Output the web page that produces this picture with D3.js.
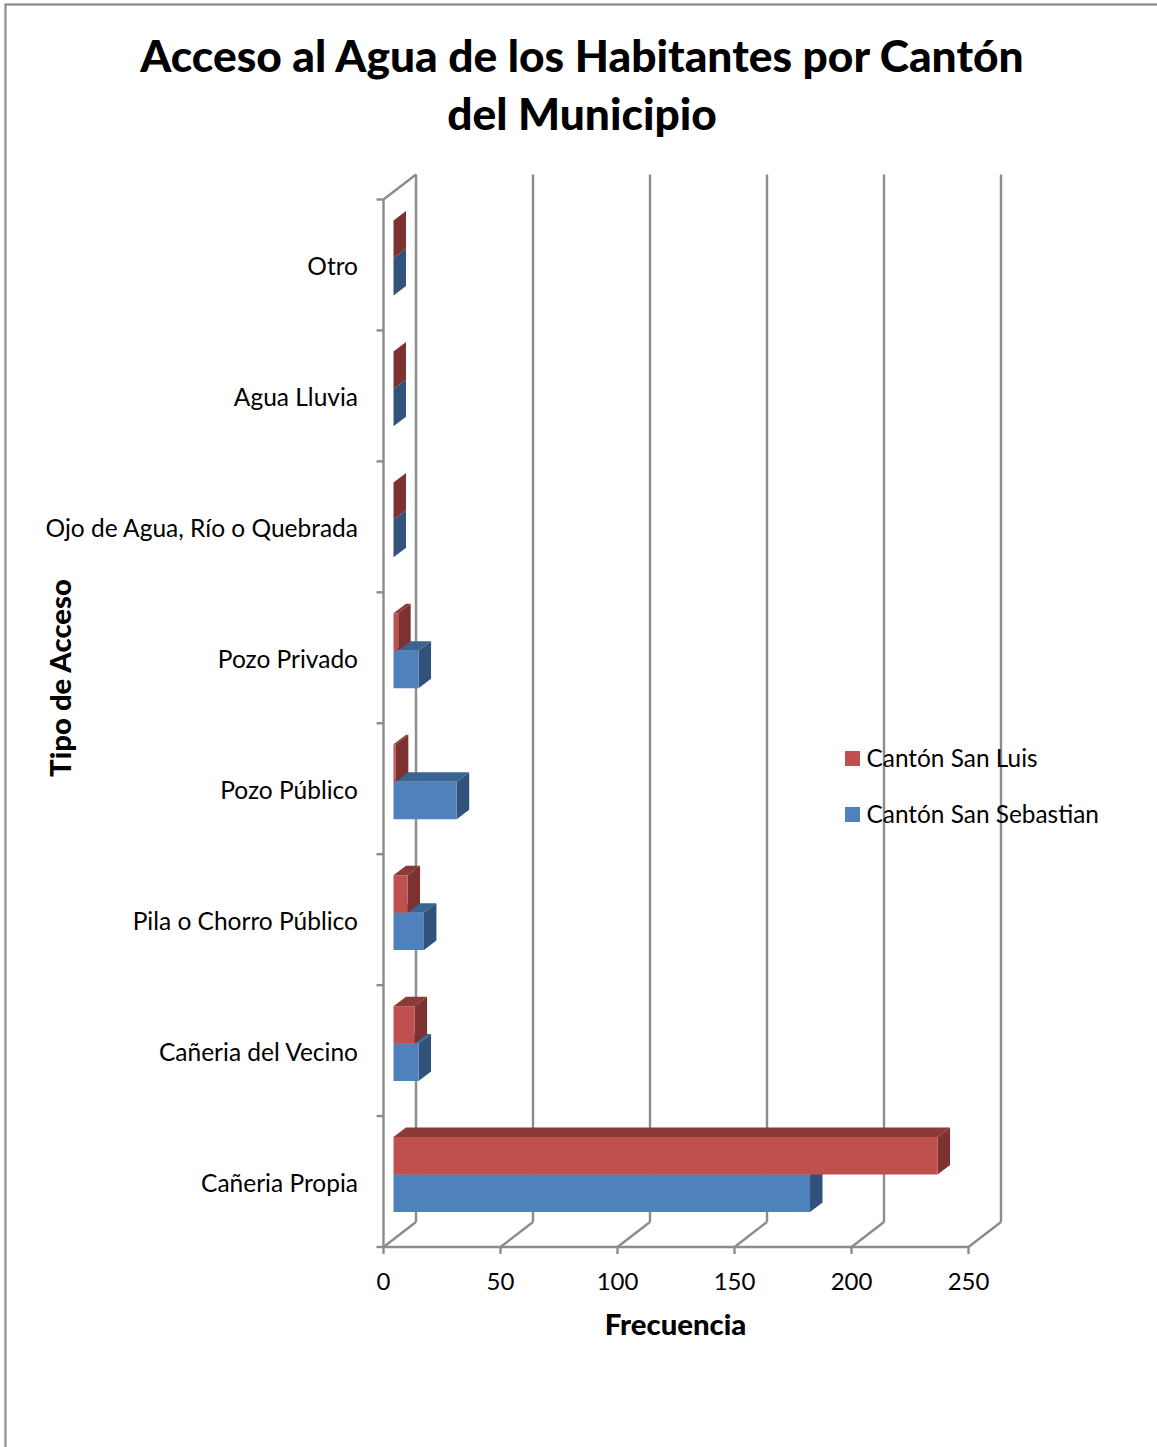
<!DOCTYPE html>
<html><head><meta charset="utf-8">
<script src="https://cdnjs.cloudflare.com/ajax/libs/d3/7.8.5/d3.min.js"></script>
<style>html,body{margin:0;padding:0;background:#fff;overflow:hidden}svg{display:block}text{font-family:Lato,sans-serif;fill:#000}</style>
</head><body><svg id="c" width="1157" height="1447"></svg>
<script>
const categories = ["Cañeria Propia","Cañeria del Vecino","Pila o Chorro Público","Pozo Público","Pozo Privado","Ojo de Agua, Río o Quebrada","Agua Lluvia","Otro"];
const sanLuis = [232.5,9,6,1,2,0,0,0];
const sanSebastian = [178,10.7,13,27,10.7,0,0,0];
const xTicks = [0,50,100,150,200,250];
const titleLines = ["Acceso al Agua de los Habitantes por Cantón","del Municipio"];
const seriesNames = ["Cantón San Luis","Cantón San Sebastian"];

const svg = d3.select("#c");
const gray = "#8c8c8c";
const x = d3.scaleLinear().domain([0,250]).range([383.5,968.5]);
const y = d3.scaleBand().domain(categories).range([1247,199.5]);
const sub = d3.scaleBand().domain(["l","s"]).range([0,y.bandwidth()]).paddingInner(0).paddingOuter(0.75);
const dx = 32.5, dy = -25;          // wall depth
const bx = 10, by = -7;             // bar inset along depth
const bdx = 12.5, bdy = -9.5;       // bar depth

svg.append("rect").attr("x",5.5).attr("y",4.5).attr("width",1300).attr("height",1600)
  .attr("fill","#fff").attr("stroke",gray).attr("stroke-width",2.2);

const walls = svg.append("g").attr("fill","none").attr("stroke",gray).attr("stroke-width",2.4);
const line = (x1,y1,x2,y2)=>walls.append("line").attr("x1",x1).attr("y1",y1).attr("x2",x2).attr("y2",y2);
const [yb,yt] = [y.range()[0], y.range()[1]];
line(x(0),yt,x(0),yb);
line(x(0),yt,x(0)+dx,yt+dy);
line(x(0),yb,x(250),yb);
xTicks.forEach(t=>{
  line(x(t)+dx,yt+dy,x(t)+dx,yb+dy);
  line(x(t),yb,x(t)+dx,yb+dy);
  line(x(t),yb,x(t),yb+7);
});
categories.forEach(c=>{ line(x(0)-7,y(c)+y.bandwidth(),x(0),y(c)+y.bandwidth()); });
line(x(0)-7,yt,x(0),yt);

function bar(g,v,top,h,cols){
  const x0 = x(0)+bx, x1 = x(v)+bx, t = top+by, b = t+h;
  const poly = (p,f)=>g.append("polygon").attr("points",p.map(q=>q.join(",")).join(" ")).attr("fill",f);
  poly([[x0,t],[x0+bdx,t+bdy],[x1+bdx,t+bdy],[x1,t]],cols.top);
  poly([[x1,t],[x1+bdx,t+bdy],[x1+bdx,b+bdy],[x1,b]],cols.side);
  if(v>0) poly([[x0,t],[x1,t],[x1,b],[x0,b]],cols.front);
}
const red = {front:"#c0504d",side:"#7c3230",top:"#8c3a38"};
const blue = {front:"#4f81bd",side:"#31527a",top:"#3a6491"};
const bars = svg.append("g");
categories.slice().reverse().forEach(c=>{
  const i = categories.indexOf(c);
  bar(bars,sanSebastian[i],y(c)+sub("s"),sub.bandwidth(),blue);
  bar(bars,sanLuis[i],y(c)+sub("l"),sub.bandwidth(),red);
});

const axL = svg.append("g").attr("transform",`translate(${x(0)-25.5},0.4)`)
  .call(d3.axisLeft(y).tickSize(0).tickPadding(0));
axL.select(".domain").remove();
axL.selectAll("text").attr("font-family","Lato").attr("font-size",24.5).attr("dy","0.4em").style("fill","#000");

const axB = svg.append("g").attr("transform",`translate(-0.5,${yb})`)
  .call(d3.axisBottom(x).tickValues(xTicks).tickFormat(d3.format("d")).tickSize(0).tickPadding(26));
axB.select(".domain").remove();
axB.selectAll("text").attr("font-family","Lato").attr("font-size",24).attr("dy","0.71em").style("fill","#000");

svg.selectAll("text.t").data(titleLines).join("text").attr("class","t")
  .attr("x",582).attr("y",(d,i)=>71.5+i*58).attr("text-anchor","middle")
  .attr("font-size",44.3).attr("font-weight",900).text(d=>d);
svg.append("text").attr("x",675.5).attr("y",1335).attr("text-anchor","middle")
  .attr("font-size",29.3).attr("font-weight",900).text("Frecuencia");
svg.append("text").attr("transform","translate(71,678) rotate(-90)").attr("text-anchor","middle")
  .attr("font-size",29.3).attr("font-weight",900).text("Tipo de Acceso");

const lg = svg.append("g").selectAll("g").data(seriesNames).join("g")
  .attr("transform",(d,i)=>`translate(845,${751+i*56})`);
lg.append("rect").attr("width",15).attr("height",15).attr("fill",(d,i)=>i?blue.front:red.front);
lg.append("text").attr("x",21.5).attr("y",15.5).attr("font-size",24.4).text(d=>d);
</script></body></html>
